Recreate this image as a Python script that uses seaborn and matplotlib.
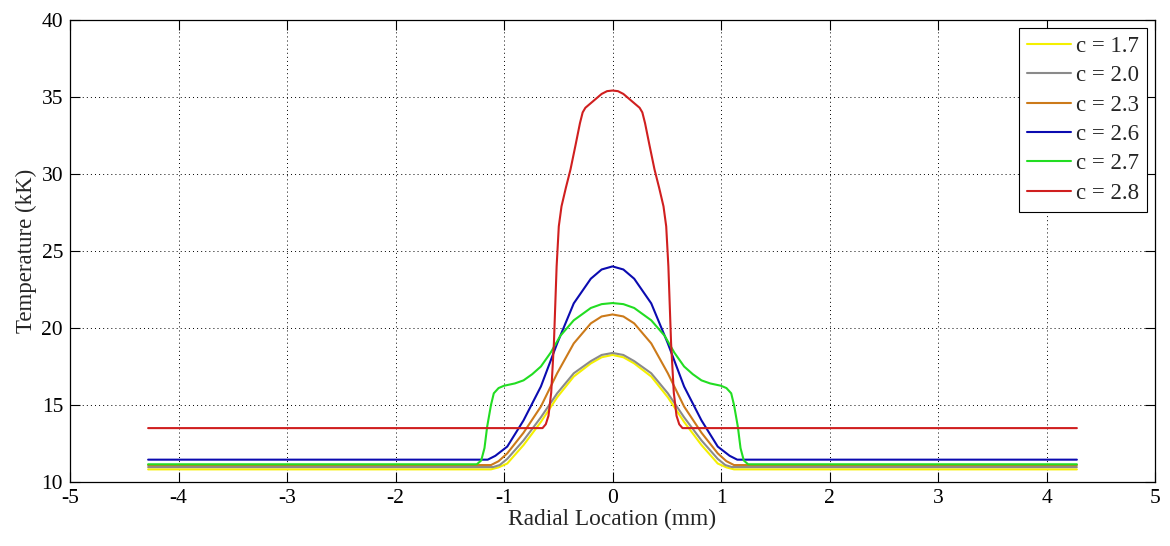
import matplotlib
matplotlib.use("Agg")
import matplotlib.pyplot as plt
import seaborn as sns
import pandas as pd

labels = ["c = 1.7", "c = 2.0", "c = 2.3", "c = 2.6", "c = 2.7", "c = 2.8"]
colors = ["#f4f000", "#8a8a8a", "#cc7a1a", "#0b0bb0", "#22dd22", "#d01f1f"]

x_c17 = [-4.28, -1.12, -1.05, -0.97, -0.82, -0.66, -0.51, -0.357, -0.2, -0.1, 0.0,
         0.1, 0.2, 0.357, 0.51, 0.66, 0.82, 0.97, 1.05, 1.12, 4.28]
t_c17 = [10.82, 10.82, 10.95, 11.2, 12.4, 13.9, 15.5, 16.85, 17.7, 18.1, 18.25,
         18.1, 17.7, 16.85, 15.5, 13.9, 12.4, 11.2, 10.95, 10.82, 10.82]

x_c20 = [-4.28, -1.1, -1.04, -0.97, -0.82, -0.66, -0.51, -0.357, -0.2, -0.1, 0.0,
         0.1, 0.2, 0.357, 0.51, 0.66, 0.82, 0.97, 1.04, 1.1, 4.28]
t_c20 = [10.97, 10.97, 11.1, 11.5, 12.7, 14.2, 15.76, 17.06, 17.85, 18.25, 18.38,
         18.25, 17.85, 17.06, 15.76, 14.2, 12.7, 11.5, 11.1, 10.97, 10.97]

x_c23 = [-4.28, -1.12, -1.05, -0.97, -0.82, -0.66, -0.51, -0.357, -0.2, -0.1, 0.0,
         0.1, 0.2, 0.357, 0.51, 0.66, 0.82, 0.97, 1.05, 1.12, 4.28]
t_c23 = [11.1, 11.1, 11.35, 11.86, 13.2, 14.9, 17.06, 19.0, 20.3, 20.75, 20.88,
         20.75, 20.3, 19.0, 17.06, 14.9, 13.2, 11.86, 11.35, 11.1, 11.1]

x_c26 = [-4.28, -1.15, -1.08, -0.97, -0.82, -0.66, -0.51, -0.357, -0.2, -0.1, 0.0,
         0.1, 0.2, 0.357, 0.51, 0.66, 0.82, 0.97, 1.08, 1.15, 4.28]
t_c26 = [11.45, 11.45, 11.7, 12.3, 14.0, 16.2, 19.0, 21.6, 23.2, 23.8, 24.0,
         23.8, 23.2, 21.6, 19.0, 16.2, 14.0, 12.3, 11.7, 11.45, 11.45]

x_c27 = [-4.28, -1.25, -1.21, -1.18, -1.155, -1.12, -1.094, -1.05, -1.0, -0.9, -0.82,
         -0.74, -0.66, -0.57, -0.48, -0.357, -0.2, -0.1, 0.0,
         0.1, 0.2, 0.357, 0.48, 0.57, 0.66, 0.74, 0.82, 0.9, 1.0, 1.05, 1.094,
         1.12, 1.155, 1.18, 1.21, 1.25, 4.28]
t_c27 = [11.15, 11.15, 11.4, 12.2, 13.6, 15.0, 15.76, 16.1, 16.25, 16.4, 16.6,
         17.0, 17.5, 18.4, 19.5, 20.5, 21.3, 21.55, 21.62,
         21.55, 21.3, 20.5, 19.5, 18.4, 17.5, 17.0, 16.6, 16.4, 16.25, 16.1, 15.76,
         15.0, 13.6, 12.2, 11.4, 11.15, 11.15]

x_c28 = [-4.28, -0.645, -0.615, -0.59, -0.565, -0.54, -0.515, -0.495, -0.47, -0.43,
         -0.387, -0.34, -0.3, -0.275, -0.25, -0.2, -0.15, -0.1, -0.05, 0.0,
         0.05, 0.1, 0.15, 0.2, 0.25, 0.275, 0.3, 0.34, 0.387, 0.43, 0.47, 0.495,
         0.515, 0.54, 0.565, 0.59, 0.615, 0.645, 4.28]
t_c28 = [13.5, 13.5, 13.75, 14.3, 15.8, 19.0, 24.0, 26.6, 27.9, 29.1,
         30.3, 31.9, 33.3, 34.0, 34.3, 34.6, 34.9, 35.2, 35.38, 35.42,
         35.38, 35.2, 34.9, 34.6, 34.3, 34.0, 33.3, 31.9, 30.3, 29.1, 27.9, 26.6,
         24.0, 19.0, 15.8, 14.3, 13.75, 13.5, 13.5]

xs = [x_c17, x_c20, x_c23, x_c26, x_c27, x_c28]
ts = [t_c17, t_c20, t_c23, t_c26, t_c27, t_c28]

x_ticks = [-5, -4, -3, -2, -1, 0, 1, 2, 3, 4, 5]
y_ticks = [10, 15, 20, 25, 30, 35, 40]

frames = []
for lab, x, t in zip(labels, xs, ts):
    frames.append(pd.DataFrame({"x": x, "T": t, "series": lab}))
df = pd.concat(frames, ignore_index=True)

sns.set_theme(style="ticks")
plt.rcParams["font.family"] = ["Liberation Serif", "DejaVu Serif"]

fig = plt.figure(figsize=(11.7, 5.46), dpi=100)
ax = fig.add_axes([70 / 1170, 1 - 482 / 546, (1155 - 70) / 1170, (482 - 20) / 546])

sns.lineplot(data=df, x="x", y="T", hue="series", hue_order=labels,
             palette=dict(zip(labels, colors)), sort=False, estimator=None,
             units="series", linewidth=1.5, ax=ax, legend=False)

ax.set_xlim(-5, 5)
ax.set_ylim(10, 40)
ax.set_xticks(x_ticks)
ax.set_yticks(y_ticks)
ax.set_xticklabels([str(v) for v in x_ticks])
ax.set_yticklabels([str(v) for v in y_ticks])
ax.grid(True, color="black", linestyle=(0, (1, 3.2)), linewidth=0.7)
ax.tick_params(direction="in", length=7.5, width=0.8, top=True, right=True,
               labelsize=15.5, colors="black", pad=5)
for s in ax.spines.values():
    s.set_color("black")
    s.set_linewidth(0.9)
    s.set_visible(True)

ax.set_xlabel("Radial Location (mm)", fontsize=16.8, labelpad=1)
ax.set_ylabel("Temperature (kK)", fontsize=16.5, labelpad=3)

handles = ax.get_lines()[:6]
leg = ax.legend(handles, labels, loc="upper right", fontsize=16.5, frameon=True,
                fancybox=False, edgecolor="black", framealpha=1,
                handlelength=1.95, handletextpad=0.2, labelspacing=0.36,
                borderpad=0.35, borderaxespad=0.35)
leg.get_frame().set_linewidth(0.8)

fig.savefig("out.png", dpi=100)
